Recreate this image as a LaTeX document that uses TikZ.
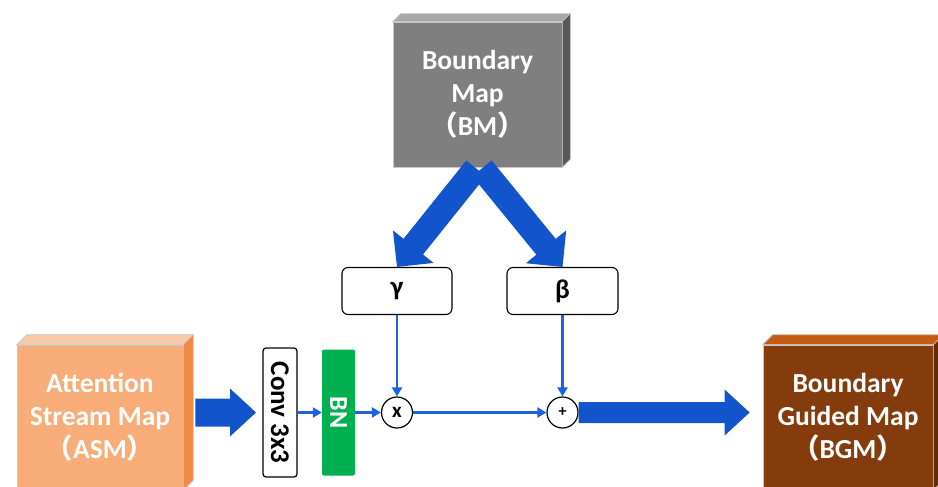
\documentclass[tikz,border=0pt]{standalone}
\usepackage{fontspec}
\setmainfont{Carlito}
\newfontfamily\cjk{Noto Sans CJK SC}
\usetikzlibrary{calc,arrows.meta}

\definecolor{bmfront}{RGB}{127,127,127}
\definecolor{bmtop}{RGB}{168,168,168}
\definecolor{bmside}{RGB}{88,88,88}
\definecolor{asmfront}{RGB}{248,172,120}
\definecolor{asmtop}{RGB}{250,202,168}
\definecolor{asmside}{RGB}{240,138,72}
\definecolor{bgmfront}{RGB}{132,60,12}
\definecolor{bgmtop}{RGB}{197,90,17}
\definecolor{bgmside}{RGB}{96,42,8}
\definecolor{bigblue}{RGB}{18,84,204}
\definecolor{thinblue}{RGB}{30,98,228}
\definecolor{bngreen}{RGB}{0,176,80}
\definecolor{edgegray}{RGB}{200,200,200}

% full-width brackets around an abbreviation
\newcommand\fw[1]{{\cjk （}#1{\cjk ）}}

% wide block arrow: start, tip, shaft half width, head half width, head length
\newcommand\fatarrow[5]{%
  \coordinate (fa-h) at ($(#2)!#5!(#1)$);
  \fill[bigblue] ($(#1)!#3!90:(#2)$) -- ($(fa-h)!#3!90:(#2)$)
    -- ($(fa-h)!#4!90:(#2)$) -- (#2) -- ($(fa-h)!#4!-90:(#2)$)
    -- ($(fa-h)!#3!-90:(#2)$) -- ($(#1)!#3!-90:(#2)$) -- cycle;}

\begin{document}
\begin{tikzpicture}[x=1pt,y=-1pt,
  face/.style={draw=edgegray, line width=0.7pt, inner sep=0pt},
  maplabel/.style={text=white, align=center,
    font=\bfseries\fontsize{27.5}{33}\selectfont},
  param/.style={draw=black, line width=1.1pt, rounded corners=6pt, fill=white,
    minimum height=47pt, font=\bfseries\fontsize{27}{30}\selectfont},
  op/.style={circle, draw=black, line width=1.2pt, fill=white, minimum size=31pt,
    inner sep=0pt},
  link/.style={draw=thinblue, line width=2.3pt, -{Triangle[length=9pt,width=10pt]}}
]
\useasboundingbox (0,0) rectangle (938,487);

% boundary map block
\node[face, fill=bmfront, minimum width=169pt, minimum height=145pt, maplabel]
  (bm) at (477.5,94.5) {Boundary\\Map\\\fw{BM}};
\filldraw[bmtop, draw=edgegray, line width=0.7pt] (bm.north west) -- ++(8,-8)
  -- ($(bm.north east)+(8,-8)$) -- (bm.north east) -- cycle;
\filldraw[bmside, draw=edgegray, line width=0.7pt] (bm.north east) -- ++(8,-8)
  -- ($(bm.south east)+(8,-8)$) -- (bm.south east) -- cycle;

% attention stream map block
\node[face, fill=asmfront, minimum width=166pt, minimum height=145pt, maplabel]
  (asm) at (100,417.5) {Attention\\Stream Map\\\fw{ASM}};
\filldraw[asmtop, draw=edgegray, line width=0.7pt] (asm.north west) -- ++(10,-10)
  -- ($(asm.north east)+(10,-10)$) -- (asm.north east) -- cycle;
\filldraw[asmside, draw=edgegray, line width=0.7pt] (asm.north east) -- ++(10,-10)
  -- ($(asm.south east)+(10,-10)$) -- (asm.south east) -- cycle;

% boundary guided map block
\node[face, fill=bgmfront, minimum width=170pt, minimum height=145pt, maplabel]
  (bgm) at (848,417.5) {Boundary\\Guided Map\\\fw{BGM}};
\filldraw[bgmtop, draw=edgegray, line width=0.7pt] (bgm.north west) -- ++(10,-10)
  -- ($(bgm.north east)+(10,-10)$) -- (bgm.north east) -- cycle;
\filldraw[bgmside, draw=edgegray, line width=0.7pt] (bgm.north east) -- ++(10,-10)
  -- ($(bgm.south east)+(10,-10)$) -- (bgm.south east) -- cycle;

% modulation parameters
\node[param, minimum width=110pt] (gamma) at (397,291) {γ};
\node[param, minimum width=111pt] (beta) at (562.5,291) {β};

% convolution and batch norm
\node[draw=black, line width=1.2pt, rounded corners=3pt, fill=white, rotate=-90,
  minimum width=129pt, minimum height=34pt, inner sep=0pt,
  font=\bfseries\fontsize{27}{29}\selectfont] (conv) at (280,412.5) {Conv 3x3};
\node[fill=bngreen, rounded corners=2pt, rotate=-90, text=white,
  minimum width=126pt, minimum height=33pt, inner sep=0pt,
  font=\bfseries\fontsize{26}{28}\selectfont] (bn) at (338.5,412.5) {BN};

% operators
\node[op, font=\bfseries\fontsize{21}{22}\selectfont] (mul) at (397,412.5) {x};
\node[op, font=\bfseries\fontsize{16}{18}\selectfont] (add) at (562.5,412.5) {+};

% thin connectors
\draw[link] (conv) -- (bn);
\draw[link] (bn) -- (mul);
\draw[link] (mul) -- (add);
\draw[link] (gamma) -- (mul);
\draw[link] (beta) -- (add);

% wide arrows
\coordinate (bm-l) at ($(bm.south)+(-1.5,1)$);
\coordinate (bm-r) at ($(bm.south)+(4.5,1)$);
\fatarrow{bm-l}{gamma.north}{12.5pt}{26pt}{26pt}
\fatarrow{bm-r}{beta.north}{12.5pt}{26pt}{26pt}

\coordinate (asm-out) at ($(asm.east |- conv.center)+(12,0)$);
\coordinate (conv-in) at ($(conv.center)+(-24,0)$);
\fatarrow{asm-out}{conv-in}{14pt}{24pt}{26pt}

\coordinate (bgm-in) at ($(bgm.west |- add.center)+(-13,0)$);
\fatarrow{add.east}{bgm-in}{10.5pt}{23pt}{25pt}
\end{tikzpicture}
\end{document}
